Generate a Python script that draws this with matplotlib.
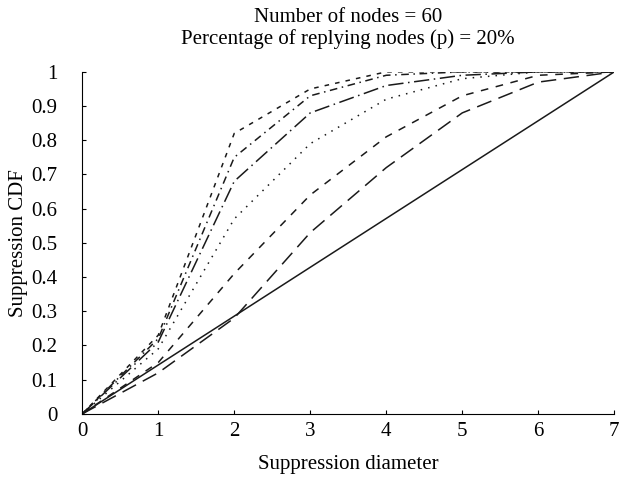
import numpy as np
import matplotlib.pyplot as plt

plt.rcParams['font.family'] = ['Liberation Serif', 'DejaVu Serif']
plt.rcParams['font.size'] = 15

x = [0, 1, 2, 3, 4, 5, 6, 7]

# one curve per line style
solid = [0, 1/7, 2/7, 3/7, 4/7, 5/7, 6/7, 1]
long_dash = [0, 0.12, 0.28, 0.53, 0.72, 0.88, 0.97, 1]
med_dash = [0, 0.15, 0.41, 0.64, 0.81, 0.93, 0.99, 1]
dotted = [0, 0.19, 0.57, 0.79, 0.92, 0.98, 1.0, 1]
long_dashdot = [0, 0.21, 0.68, 0.88, 0.96, 0.99, 1.0, 1]
dashdot = [0, 0.22, 0.75, 0.93, 0.99, 1.0, 1.0, 1]
short_dash = [0, 0.23, 0.82, 0.95, 1.0, 1.0, 1.0, 1]

series = [solid, long_dash, med_dash, dotted, long_dashdot, dashdot, short_dash]
styles = ['-', (0, (10, 5)), (0, (5, 5)), (0, (1, 4)),
          (0, (10, 3, 1, 3)), (0, (5, 3, 1, 3)), (0, (3, 4))]

fig = plt.figure(figsize=(6.23, 4.79), dpi=100)
ax = fig.add_axes([0.132, 0.136, 0.854, 0.714])

for y, ls in zip(series, styles):
    ax.plot(x, y, color='#1a1a1a', lw=1.1, linestyle=ls)

ax.set_xlim(0, 7)
ax.set_ylim(0, 1)
ax.set_xticks(range(8))
ax.set_yticks(np.arange(0, 1.01, 0.1))
ax.set_yticklabels(['0', '0.1', '0.2', '0.3', '0.4', '0.5', '0.6', '0.7', '0.8', '0.9', '1'])
ax.tick_params(direction='in', length=3, labelsize=15)
ax.tick_params(axis='y', pad=18)
ax.tick_params(axis='x', pad=6)
ax.spines['top'].set_visible(False)
ax.spines['right'].set_visible(False)

ax.set_xlabel('Suppression diameter', fontsize=15, labelpad=10)
ax.set_ylabel('Suppression CDF', fontsize=15, labelpad=2)
ax.set_title('Number of nodes = 60\nPercentage of replying nodes (p) = 20%',
             fontsize=15, pad=20, linespacing=1.15)

fig.savefig('out.png', dpi=100)
